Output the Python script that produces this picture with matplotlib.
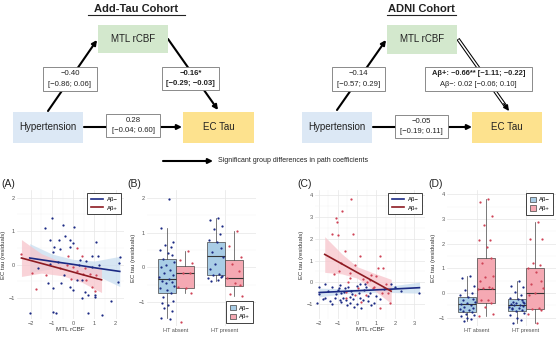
import matplotlib
matplotlib.use("Agg")
import matplotlib.pyplot as plt
from matplotlib.patches import Rectangle, Patch

plt.rcParams['font.family'] = ['Liberation Sans', 'DejaVu Sans']

# ---------------- DATA ----------------
# Panel A (Add-Tau): MTL rCBF vs EC tau residuals
A_neg_x = [1.02, -0.98, -1.34, -0.47, -1.10, -0.66, -0.39, 0.03, -0.13, 0.00, -0.91, -0.63, -0.94, -0.16,
           0.87, 1.18, 1.10, 2.20, 2.17, -1.65, -1.21, -0.94, -0.55, 0.19, 0.44, -0.71, -1.10, 0.28, 0.87,
           1.23, -0.16, -0.03, 0.55, 0.71, 0.44, 1.02, 1.81, 2.13, -2.05, -0.94, -0.82, 0.71, 1.34, 0.30,
           -0.45, 1.05, 0.60]
A_neg_y = [1.94, 1.40, 1.09, 1.19, 0.75, 0.75, 0.87, 1.12, 0.75, 0.65, 0.52, 0.48, 0.38, 0.52,
           0.26, 0.26, 0.69, 0.23, 0.06, -0.10, -0.56, -0.69, -0.56, -0.47, -0.45, 0.08, 0.03, -0.02, -0.07,
           -0.02, -0.66, -0.76, -0.81, -0.91, -0.99, -0.91, -1.09, -0.51, -1.43, -1.41, -1.43, -1.43, -1.50, 0.15,
           -0.30, -0.95, 0.10]
A_pos_x = [-2.44, -1.76, -1.92, -0.24, 0.19, 0.44, -0.31, 0.16, 0.47, 0.79, 1.10, 0.91, -0.08, 0.63,
           1.02, -1.26, -0.63, 0.00, 0.55]
A_pos_y = [0.33, -0.71, -0.24, 0.26, 0.50, 0.26, 0.00, -0.20, -0.27, -0.27, -0.32, -0.66, -0.42, -0.45,
           -0.79, -0.32, -0.10, -0.07, -0.10]
A_neg_fit_x = [-2.05, -1.0, 0.0, 1.0, 2.20]
A_neg_fit_y = [0.20, 0.10, 0.01, -0.09, -0.20]
A_neg_fit_lo = [-0.23, -0.12, -0.14, -0.29, -0.65]
A_neg_fit_hi = [0.63, 0.32, 0.16, 0.11, 0.25]
A_pos_fit_x = [-2.44, -1.5, -0.5, 0.4, 1.34]
A_pos_fit_y = [0.20, 0.04, -0.13, -0.29, -0.45]
A_pos_fit_lo = [-0.35, -0.25, -0.33, -0.52, -0.83]
A_pos_fit_hi = [0.75, 0.33, 0.07, -0.06, -0.07]

# Panel B (Add-Tau): boxplots by hypertension
B_groups = ["HT absent", "HT present"]
B_neg_q1 = [-0.74, -0.21]; B_neg_med = [-0.32, 0.32]; B_neg_q3 = [0.25, 0.74]
B_neg_lo = [-1.45, -0.40]; B_neg_hi = [1.13, 1.41]
B_pos_q1 = [-0.59, -0.54]; B_pos_med = [-0.16, -0.31]; B_pos_q3 = [0.03, 0.22]
B_pos_lo = [-0.74, -0.83]; B_pos_hi = [0.46, 1.03]
B_absent_neg = [1.97, 1.13, 0.72, 0.65, 0.58, 0.50, 0.42, 0.35, 0.25, 0.15, 0.08, 0.0, -0.08, -0.15, -0.22,
                -0.28, -0.32, -0.38, -0.42, -0.46, -0.52, -0.58, -0.66, -0.74, -0.85, -0.95, -1.02, -1.08,
                -1.15, -1.25, -1.45, -1.47]
B_absent_pos = [0.46, 0.20, 0.12, -0.16, -0.16, -0.55, -0.58, -0.74, -1.57]
B_present_neg = [1.41, 1.35, 1.20, 1.10, 0.95, 0.80, 0.74, 0.55, 0.45, 0.30, 0.10, -0.05, -0.20, -0.22,
                 -0.25, -0.30, -0.35, -0.40, -0.28]
B_present_pos = [1.03, 0.60, 0.30, 0.10, -0.10, -0.30, -0.45, -0.50, -0.75, -0.83]

# Panel C (ADNI): MTL rCBF vs EC tau residuals
C_pos_x = [-0.30, -0.77, -1.08, -1.04, -1.30, -0.99, -0.21, -0.64, 0.14, 1.18, -0.85, 1.10, 1.36, -0.94,
           -0.38, 0.75, 1.01, -0.35, 0.31, -0.47, 1.53, 0.83, 1.74, 0.45, -0.12, 1.18, 0.05, -0.56, 0.66,
           -1.20, 0.50, 1.60, -0.10, 0.90, -0.60, 0.20, 1.30]
C_pos_y = [3.82, 3.24, 2.93, 2.78, 2.21, 2.17, 2.20, 1.44, 1.21, 1.22, 0.87, 0.67, 0.67, 0.52,
           0.41, 0.34, 0.31, 0.18, 0.14, 0.03, -0.09, -0.24, -0.96, -0.58, -0.58, -1.16, -0.27, -0.43, 0.10,
           0.40, 0.00, -0.50, 0.80, -0.20, -0.70, -0.90, -0.50]
C_neg_x = [1.79, 0.14, -1.69, -1.98, -1.29, -0.90, -0.64, 0.49, -1.98, -1.69, -1.17, -0.82, -0.73, -0.56,
           -0.38, 0.14, 0.31, 0.66, 0.00, 0.23, -2.12, -1.43, -0.38, -0.90, 3.27, 2.31, -0.30, 0.40, -1.00,
           -0.70, -0.20, 0.60, 1.00, -1.50, 0.90, -0.50, 0.10, -1.10, -0.85, 0.35, 1.40, -0.45, 0.75, -1.80,
           0.00, 2.00, -0.15, 0.55, -0.95, 1.20, -0.25, -1.30]
C_neg_y = [-0.09, -0.09, -0.09, -0.20, -0.20, -0.12, -0.27, -0.20, -0.55, -0.70, -0.70, -0.50, -0.70, -0.81,
           -0.66, -0.73, -0.81, -0.50, -1.00, -1.19, -0.92, -0.84, -0.96, -0.81, -0.50, -0.40, -0.40, -0.09, -0.35,
           -0.45, -0.75, -0.85, -0.60, -0.40, -0.95, -1.05, -0.50, -0.55, -0.90, -0.35, -0.30, -0.20, -1.05, -0.75,
           -0.15, -0.20, -1.10, -0.60, -0.25, -0.75, -0.55, -1.00]
C_neg_fit_x = [-1.98, -0.5, 0.0, 1.5, 3.27]
C_neg_fit_y = [-0.46, -0.40, -0.38, -0.32, -0.24]
C_neg_fit_lo = [-0.66, -0.50, -0.47, -0.45, -0.49]
C_neg_fit_hi = [-0.26, -0.30, -0.29, -0.19, 0.01]
C_pos_fit_x = [-1.69, -0.8, 0.0, 0.9, 1.79]
C_pos_fit_y = [1.28, 0.85, 0.46, 0.03, -0.40]
C_pos_fit_lo = [0.46, 0.39, 0.20, -0.36, -0.96]
C_pos_fit_hi = [2.09, 1.31, 0.72, 0.42, 0.14]

# Panel D (ADNI): boxplots by hypertension
D_neg_q1 = [-0.78, -0.72]; D_neg_med = [-0.45, -0.47]; D_neg_q3 = [-0.18, -0.24]
D_neg_lo = [-1.12, -1.22]; D_neg_hi = [0.68, 0.50]
D_pos_q1 = [-0.41, -0.65]; D_pos_med = [0.16, 0.00]; D_pos_q3 = [1.41, 1.00]
D_pos_lo = [-0.92, -1.22]; D_pos_hi = [3.81, 2.89]
D_absent_neg = [0.68, 0.60, 0.30, 0.10, 0.00, -0.10, -0.18, -0.25, -0.30, -0.35, -0.40, -0.45, -0.50, -0.55,
                -0.60, -0.65, -0.70, -0.75, -0.78, -0.85, -0.90, -0.95, -1.00, -1.05, -1.12]
D_absent_pos = [3.81, 3.70, 3.10, 2.75, 2.15, 2.15, 1.85, 1.40, 1.20, 0.70, 0.65, 0.50, 0.25, 0.20, 0.20,
                0.15, -0.30, -0.30, -0.40, -0.55, -0.85, -0.92]
D_present_neg = [0.50, 0.30, 0.25, 0.05, -0.10, -0.20, -0.24, -0.30, -0.35, -0.40, -0.42, -0.45, -0.47, -0.50,
                 -0.52, -0.55, -0.60, -0.65, -0.70, -0.72, -0.80, -0.90, -1.00, -1.10, -1.22, -0.38, -0.62]
D_present_pos = [2.89, 2.20, 2.20, 1.20, 1.15, 1.00, 0.85, 0.50, 0.35, 0.20, 0.00, -0.10, -0.60, -0.65,
                 -0.70, -0.85, -1.22]

legend_labels = ["A\u03b2\u2212", "A\u03b2+"]

# jitter offsets (horizontal positions of dots inside each box, category units)
JITTER = [0.05, -0.11, 0.13, -0.04, 0.09, -0.14, 0.02, 0.11, -0.08, 0.15, -0.01, -0.12, 0.07, -0.06, 0.12,
          -0.15, 0.04, -0.09, 0.10, -0.02, 0.14, -0.13, 0.00, 0.08, -0.07, 0.13, -0.10, 0.03, -0.05, 0.11,
          -0.12, 0.06]

# ---------------- STYLE ----------------
W, H = 560, 338
NAVY = "#1b2a84"
RED_PT = "#cf4457"
RED_LINE = "#8e1b22"
BLUE_BAND = "#c9def0"
RED_BAND = "#f7c5cc"
BOX_BLUE = "#a9cde6"
BOX_RED = "#f5a9b3"
GRID = "#e6e6e6"
GRID_MINOR = "#f3f3f3"
TICK_COL = "#555555"
DOT = 2.6

fig = plt.figure(figsize=(5.6, 3.38), dpi=100)


def ax_px(x0, y0, x1, y1):
    return fig.add_axes([x0 / W, 1 - y1 / H, (x1 - x0) / W, (y1 - y0) / H])


def style(ax):
    for s in ax.spines.values():
        s.set_visible(False)
    ax.tick_params(length=0, labelsize=4, labelcolor=TICK_COL, pad=1.5)
    ax.grid(True, which='major', color=GRID, lw=0.5)
    ax.grid(True, which='minor', color=GRID_MINOR, lw=0.35)
    ax.set_axisbelow(True)
    ax.set_ylabel("EC tau (residuals)", fontsize=4.3, color="#333333", labelpad=1.5)


# ---------------- OVERLAY (diagram) ----------------
ov = fig.add_axes([0, 0, 1, 1])
ov.set_xlim(0, W)
ov.set_ylim(H, 0)
ov.axis('off')


def node(x0, y0, x1, y1, fc, label):
    ov.add_patch(Rectangle((x0, y0), x1 - x0, y1 - y0, facecolor=fc, edgecolor='none', zorder=2))
    ov.text((x0 + x1) / 2, (y0 + y1) / 2, label, ha='center', va='center', fontsize=7, color="#222222", zorder=3)


def coef(x0, y0, x1, y1, lines, fs=5.6):
    ov.add_patch(Rectangle((x0, y0), x1 - x0, y1 - y0, facecolor='white', edgecolor='#777777', lw=0.6, zorder=4))
    hh = (y1 - y0)
    fracs = [0.29, 0.71]
    for (t, bold), f in zip(lines, fracs):
        ov.text((x0 + x1) / 2, y0 + hh * f, t, ha='center', va='center', fontsize=fs,
                fontweight='bold' if bold else 'normal', color="#222222", zorder=5)


def arrow(p0, p1, lw=1.5):
    ov.annotate('', xy=p1, xytext=p0,
                arrowprops=dict(arrowstyle='-|>', color='black', lw=lw, mutation_scale=7,
                                shrinkA=0, shrinkB=0), zorder=1)


def double_arrow(p0, p1):
    dx, dy = p1[0] - p0[0], p1[1] - p0[1]
    L = (dx ** 2 + dy ** 2) ** 0.5
    ux, uy = dx / L, dy / L
    e = (p1[0] - 6 * ux, p1[1] - 6 * uy)
    ov.plot([p0[0], e[0]], [p0[1], e[1]], color='black', lw=2.6, solid_capstyle='butt', zorder=1)
    ov.plot([p0[0] + 0.8 * ux, e[0]], [p0[1] + 0.8 * uy, e[1]], color='white', lw=1.1,
            solid_capstyle='butt', zorder=1.1)
    ov.annotate('', xy=p1, xytext=(p1[0] - 9 * ux, p1[1] - 9 * uy),
                arrowprops=dict(arrowstyle='-|>', color='black', lw=1.0, mutation_scale=8,
                                shrinkA=0, shrinkB=0), zorder=1.2)


# titles
for cx, x0, x1, t in [(136.5, 88, 185, "Add-Tau Cohort"), (421.5, 387, 456, "ADNI Cohort")]:
    ov.text(cx, 8.5, t, ha='center', va='center', fontsize=8, fontweight='bold', color='#222222')
    ov.plot([x0, x1], [15, 15], color='#222222', lw=0.8)

# Add-Tau diagram
arrow((48, 111), (97, 40))
arrow((168, 39), (218, 110))
arrow((84, 127), (182, 127))
node(98, 25, 168, 53, "#d3e8cd", "MTL rCBF")
node(13, 112, 83, 143, "#dce8f5", "Hypertension")
node(183, 112, 254, 143, "#fde28e", "EC Tau")
coef(43, 67, 97, 91, [("\u22120.40", False), ("[\u22120.86; 0.06]", False)])
coef(162, 67, 219, 90, [("\u22120.16*", True), ("[\u22120.29; \u22120.03]", True)])
coef(106, 114, 160, 137, [("0.28", False), ("[\u22120.04; 0.60]", False)])

# ADNI diagram
arrow((337, 110), (386, 40))
double_arrow((458, 39), (509, 111))
arrow((373, 127), (472, 127))
node(387, 25, 457, 54, "#d3e8cd", "MTL rCBF")
node(302, 112, 372, 143, "#dce8f5", "Hypertension")
node(472, 112, 542, 143, "#fde28e", "EC Tau")
coef(332, 67, 385, 91, [("\u22120.14", False), ("[\u22120.57; 0.29]", False)])
coef(425, 67, 532, 91, [("A\u03b2+: \u22120.66** [\u22121.11; \u22120.22]", True),
                        ("A\u03b2\u2212: 0.02 [\u22120.06; 0.10]", False)], fs=5.4)
coef(395, 115, 448, 138, [("\u22120.05", False), ("[\u22120.19; 0.11]", False)])

# significance legend
arrow((163, 161), (213, 161), lw=1.5)
ov.text(218, 161, "Significant group differences in path coefficients", ha='left', va='center',
        fontsize=5, color='#222222')

# panel labels
for x, lab in [(1, "(A)"), (127, "(B)"), (297, "(C)"), (428, "(D)")]:
    ov.text(x, 184, lab, ha='left', va='center', fontsize=7.5, color='#222222')


# ---------------- SCATTER PANELS ----------------
def scatter_panel(ax, nx, ny, px, py, nfit, pfit, xticks, yticks, xlim, ylim, legloc):
    style(ax)
    ax.set_xlim(*xlim)
    ax.set_ylim(*ylim)
    ax.set_xticks(xticks)
    ax.set_yticks(yticks)
    ax.set_xticks([t + 0.5 for t in xticks[:-1]], minor=True)
    ax.set_yticks([t + 0.5 for t in yticks[:-1]], minor=True)
    ax.tick_params(which='minor', length=0)
    ax.set_xlabel("MTL rCBF", fontsize=4.5, color="#333333", labelpad=1)
    fx, fy, flo, fhi = nfit
    ax.fill_between(fx, flo, fhi, color=BLUE_BAND, alpha=0.75, lw=0, zorder=1)
    gx, gy, glo, ghi = pfit
    ax.fill_between(gx, glo, ghi, color=RED_BAND, alpha=0.75, lw=0, zorder=1)
    ax.scatter(nx, ny, s=DOT, color=NAVY, lw=0, zorder=3)
    ax.scatter(px, py, s=DOT, color=RED_PT, lw=0, zorder=3)
    l1, = ax.plot(fx, fy, color=NAVY, lw=1.2, zorder=4)
    l2, = ax.plot(gx, gy, color=RED_LINE, lw=1.2, zorder=4)
    leg = ax.legend([l1, l2], legend_labels, loc=legloc, fontsize=4.3, frameon=True, fancybox=False,
                    framealpha=1, edgecolor='#222222', handlelength=2.0, borderpad=0.6, labelspacing=0.6,
                    handletextpad=0.6)
    leg.get_frame().set_linewidth(0.6)
    leg.set_zorder(10)


axA = ax_px(17, 190, 124, 319)
scatter_panel(axA, A_neg_x, A_neg_y, A_pos_x, A_pos_y,
              (A_neg_fit_x, A_neg_fit_y, A_neg_fit_lo, A_neg_fit_hi),
              (A_pos_fit_x, A_pos_fit_y, A_pos_fit_lo, A_pos_fit_hi),
              [-2, -1, 0, 1, 2], [-1, 0, 1, 2], (-2.65, 2.4), (-1.62, 2.23), 'upper right')

axC = ax_px(315, 190, 425, 319)
scatter_panel(axC, C_neg_x, C_neg_y, C_pos_x, C_pos_y,
              (C_neg_fit_x, C_neg_fit_y, C_neg_fit_lo, C_neg_fit_hi),
              (C_pos_fit_x, C_pos_fit_y, C_pos_fit_lo, C_pos_fit_hi),
              [-2, -1, 0, 1, 2, 3], [-1, 0, 1, 2, 3, 4], (-2.2, 3.56), (-1.67, 4.22), 'upper right')


# ---------------- BOX PANELS ----------------
def stats_list(q1, med, q3, lo, hi):
    return [dict(q1=q1[i], med=med[i], q3=q3[i], whislo=lo[i], whishi=hi[i], fliers=[])
            for i in range(len(q1))]


def box_panel(ax, neg_stats, pos_stats, pts, yticks, xlim, ylim, legloc):
    style(ax)
    ax.set_xlim(*xlim)
    ax.set_ylim(*ylim)
    ax.set_yticks(yticks)
    ax.set_yticks([t + 0.5 for t in yticks[:-1]], minor=True)
    ax.tick_params(which='minor', length=0)
    ax.set_xticks([1, 2])
    ax.set_xticklabels(B_groups)
    off = 0.1875
    w = 0.36
    for stats, dx, fc in [(neg_stats, -off, BOX_BLUE), (pos_stats, off, BOX_RED)]:
        ax.bxp(stats, positions=[1 + dx, 2 + dx], widths=w, patch_artist=True, showfliers=False,
               boxprops=dict(facecolor=fc, edgecolor='#444444', lw=0.5),
               medianprops=dict(color='#333333', lw=0.8),
               whiskerprops=dict(color='#444444', lw=0.5),
               capprops=dict(lw=0), manage_ticks=False, zorder=2)
    for (vals, pos, col) in pts:
        xs = [pos + JITTER[i % len(JITTER)] for i in range(len(vals))]
        ax.scatter(xs, vals, s=DOT, color=col, lw=0, zorder=3)
    handles = [Patch(facecolor=BOX_BLUE, edgecolor='#444444', lw=0.5),
               Patch(facecolor=BOX_RED, edgecolor='#444444', lw=0.5)]
    leg = ax.legend(handles, legend_labels, loc=legloc, fontsize=4.3, frameon=True, fancybox=False,
                    framealpha=1, edgecolor='#222222', handlelength=1.0, handleheight=1.0,
                    borderpad=0.6, labelspacing=0.5, handletextpad=0.5)
    leg.get_frame().set_linewidth(0.6)
    leg.set_zorder(10)


axB = ax_px(147, 190, 256, 326)
box_panel(axB, stats_list(B_neg_q1, B_neg_med, B_neg_q3, B_neg_lo, B_neg_hi),
          stats_list(B_pos_q1, B_pos_med, B_pos_q3, B_pos_lo, B_pos_hi),
          [(B_absent_neg, 1 - 0.1875, NAVY), (B_absent_pos, 1 + 0.1875, RED_PT),
           (B_present_neg, 2 - 0.1875, NAVY), (B_present_pos, 2 + 0.1875, RED_PT)],
          [-1, 0, 1, 2], (0.408, 2.633), (-1.68, 2.22), 'lower right')

axD = ax_px(447, 190, 556, 326)
box_panel(axD, stats_list(D_neg_q1, D_neg_med, D_neg_q3, D_neg_lo, D_neg_hi),
          stats_list(D_pos_q1, D_pos_med, D_pos_q3, D_pos_lo, D_pos_hi),
          [(D_absent_neg, 1 - 0.1875, NAVY), (D_absent_pos, 1 + 0.1875, RED_PT),
           (D_present_neg, 2 - 0.1875, NAVY), (D_present_pos, 2 + 0.1875, RED_PT)],
          [-1, 0, 1, 2, 3, 4], (0.404, 2.606), (-1.34, 4.17), 'upper right')

fig.savefig("out.png", dpi=100)
